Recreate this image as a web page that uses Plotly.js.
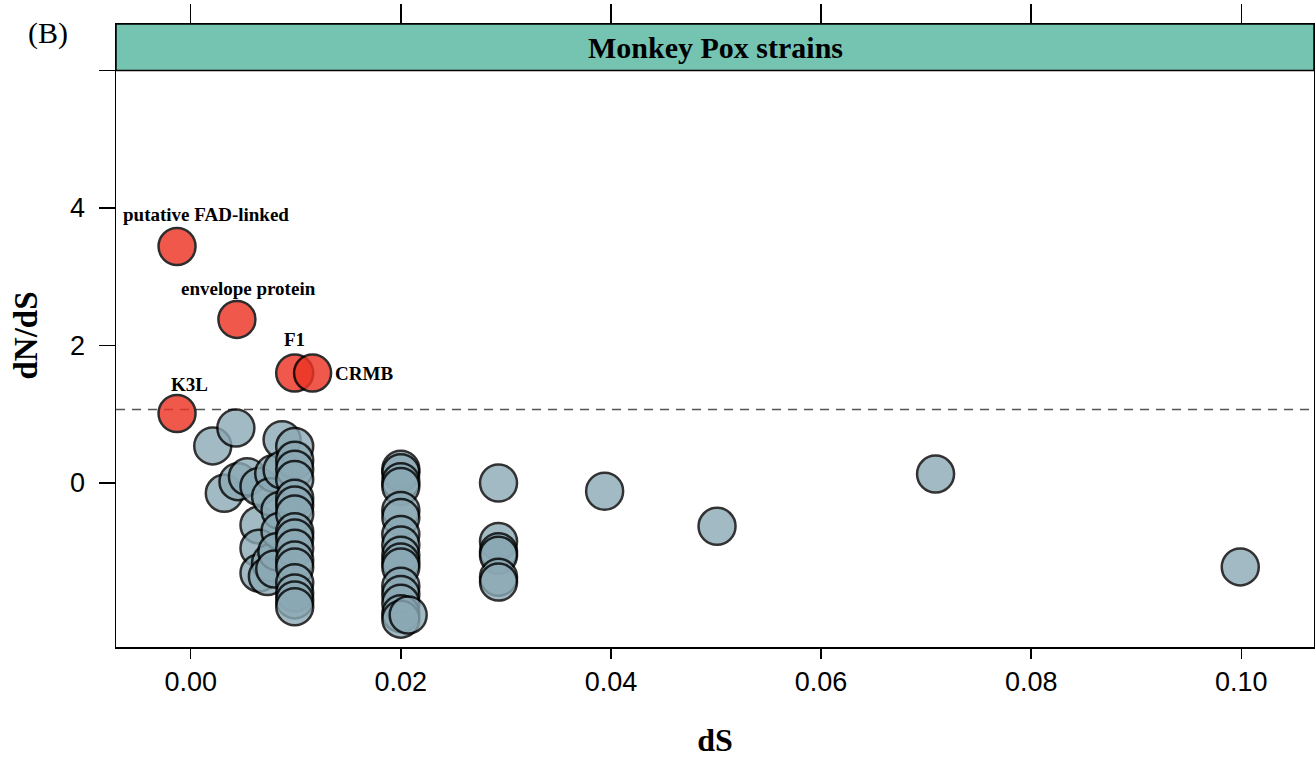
<!DOCTYPE html>
<html>
<head>
<meta charset="utf-8">
<script src="https://cdn.plot.ly/plotly-3.0.1.min.js"></script>
<style>html,body{margin:0;padding:0;background:#fff;}#chart{width:1315px;height:758px;}</style>
</head>
<body>
<div id="chart"></div>
<script>
// ---- data ----
const grayDS = [
  0.0021, 0.0043, 0.0032, 0.0045, 0.0054, 0.0065, 0.0065, 0.0065, 0.0065, 0.0076,
  0.0073, 0.0079, 0.0076, 0.0087, 0.0087, 0.0085, 0.0085, 0.0082, 0.0080,
  0.0099, 0.0099, 0.0099, 0.0099, 0.0099, 0.0099, 0.0099, 0.0099, 0.0099, 0.0099,
  0.0099, 0.0099, 0.0099, 0.0099, 0.0099, 0.0099,
  0.0200, 0.0200, 0.0200, 0.0200, 0.0200, 0.0200, 0.0200, 0.0200, 0.0200, 0.0200,
  0.0200, 0.0200, 0.0200, 0.0200, 0.0200, 0.0200, 0.0207,
  0.0293, 0.0293, 0.0293, 0.0293, 0.0293, 0.0293,
  0.0394, 0.0501, 0.0709, 0.0999
];
const grayRatio = [
  0.54, 0.80, -0.15, 0.02, 0.09, -0.05, -0.61, -0.95, -1.31, -1.16,
  -1.36, 0.14, -0.20, 0.63, 0.19, -0.40, -0.70, -1.00, -1.25,
  0.53, 0.33, 0.20, 0.05, -0.22, -0.32, -0.45, -0.71, -0.80, -0.95,
  -1.12, -1.22, -1.45, -1.60, -1.70, -1.80,
  0.20, 0.15, 0.02, -0.05, -0.40, -0.50, -0.75, -0.90, -1.05, -1.15,
  -1.22, -1.50, -1.62, -1.75, -1.90, -1.98, -1.92,
  0.00, -0.85, -1.00, -1.05, -1.37, -1.44,
  -0.12, -0.63, 0.13, -1.22
];
const redGenes = ["putative FAD-linked", "envelope protein", "F1", "CRMB", "K3L"];
const redDS = [-0.0013, 0.0044, 0.0099, 0.0116, -0.0013];
const redRatio = [3.44, 2.38, 1.60, 1.60, 1.01];
const thresholdRatio = 1.07;
const panelTitle = "Monkey Pox strains";
const xTickVals = [0.00, 0.02, 0.04, 0.06, 0.08, 0.10];
const xTickText = ["0.00", "0.02", "0.04", "0.06", "0.08", "0.10"];
const yTickVals = [0, 2, 4, 6];
const yTickText = ["0", "2", "4", ""];

// ---- label placement (pixel offsets) ----
const labelOffsets = [
  {xs: 29, ys: 32, anchor: "center"},
  {xs: 12, ys: 31, anchor: "center"},
  {xs: 0, ys: 34, anchor: "center"},
  {xs: 20, ys: 0, anchor: "left"},
  {xs: 12, ys: 29, anchor: "center"}
];

const serif = "Liberation Serif, Times New Roman, serif";
const sans = "Liberation Sans, Arial, sans-serif";
const yTop = 6.676, yBottom = -2.385;
const xRange = [-0.00711, 0.10692];

const traces = [
  {
    type: "scatter", mode: "markers", x: grayDS, y: grayRatio, name: "genes",
    marker: {size: 37, color: "rgb(139,169,181)", opacity: 0.8, line: {color: "#000", width: 2.5}},
    hoverinfo: "x+y", showlegend: false
  },
  {
    type: "scatter", mode: "markers", x: redDS, y: redRatio, text: redGenes, name: "selected",
    marker: {size: 37, color: "rgb(236,52,36)", opacity: 0.82, line: {color: "#000", width: 2.5}},
    hoverinfo: "text+x+y", showlegend: false
  },
  {type: "scatter", mode: "markers", x: [], y: [], xaxis: "x2", yaxis: "y2", showlegend: false, hoverinfo: "skip"}
];

const annotations = redGenes.map((g, i) => ({
  x: redDS[i], y: redRatio[i], xref: "x", yref: "y", text: "<b>" + g + "</b>", showarrow: false,
  xshift: labelOffsets[i].xs, yshift: labelOffsets[i].ys, xanchor: labelOffsets[i].anchor, yanchor: "middle",
  font: {family: serif, size: 19, color: "#000"}
}));
annotations.push({
  x: 0.5, xref: "paper", y: (6 + yTop) / 2, yref: "y", text: "<b>" + panelTitle + "</b>", showarrow: false,
  xanchor: "center", yanchor: "middle", font: {family: serif, size: 30, color: "#000"}
});
annotations.push({
  x: -0.0755, xref: "paper", y: 0.985, yref: "paper", text: "(B)", showarrow: false,
  xanchor: "left", yanchor: "middle", font: {family: serif, size: 30, color: "#000"}
});

const layout = {
  width: 1315, height: 758,
  margin: {l: 116, r: 1, t: 24, b: 111, pad: 0},
  paper_bgcolor: "#fff", plot_bgcolor: "#fff",
  showlegend: false,
  xaxis: {
    range: xRange, tickvals: xTickVals, ticktext: xTickText,
    ticks: "outside", ticklen: 10, tickwidth: 1.5, tickcolor: "#000",
    showline: true, linecolor: "#000", linewidth: 1.5, showgrid: false, zeroline: false,
    tickfont: {family: sans, size: 27, color: "#000"}, ticklabelstandoff: 0,
    title: {text: "<b>dS</b>", font: {family: serif, size: 32, color: "#000"}, standoff: 33}
  },
  yaxis: {
    range: [yBottom, yTop], tickvals: yTickVals, ticktext: yTickText,
    ticks: "outside", ticklen: 16, tickwidth: 1.5, tickcolor: "#000",
    showline: true, linecolor: "#000", linewidth: 1.5, showgrid: false, zeroline: false,
    tickfont: {family: sans, size: 27, color: "#000"}, ticklabelstandoff: 8,
    title: {text: "<b>dN/dS</b>", font: {family: serif, size: 33, color: "#000"}, standoff: 22}
  },
  xaxis2: {
    overlaying: "x", side: "top", anchor: "y2", range: xRange, tickvals: xTickVals,
    ticks: "outside", ticklen: 19, tickwidth: 1.5, tickcolor: "#000", showticklabels: false,
    showline: true, linecolor: "#000", linewidth: 1.5, showgrid: false, zeroline: false
  },
  yaxis2: {
    overlaying: "y", side: "right", anchor: "x2", range: [yBottom, yTop], tickvals: [-2, 0, 2, 4, 6],
    ticks: "outside", ticklen: 8, tickwidth: 1.5, tickcolor: "#000", showticklabels: false,
    showline: true, linecolor: "#000", linewidth: 1.5, showgrid: false, zeroline: false
  },
  shapes: [
    {type: "rect", xref: "paper", x0: 0, x1: 1, yref: "y", y0: 6, y1: yTop,
     fillcolor: "#74c4b1", line: {color: "#000", width: 1.5}, layer: "above"},
    {type: "line", xref: "paper", x0: 0, x1: 1, yref: "y", y0: thresholdRatio, y1: thresholdRatio,
     line: {color: "#555", width: 1.5, dash: "9px,7px"}, layer: "below"}
  ],
  annotations: annotations
};

Plotly.newPlot("chart", traces, layout, {displayModeBar: false, staticPlot: true});
</script>
</body>
</html>
